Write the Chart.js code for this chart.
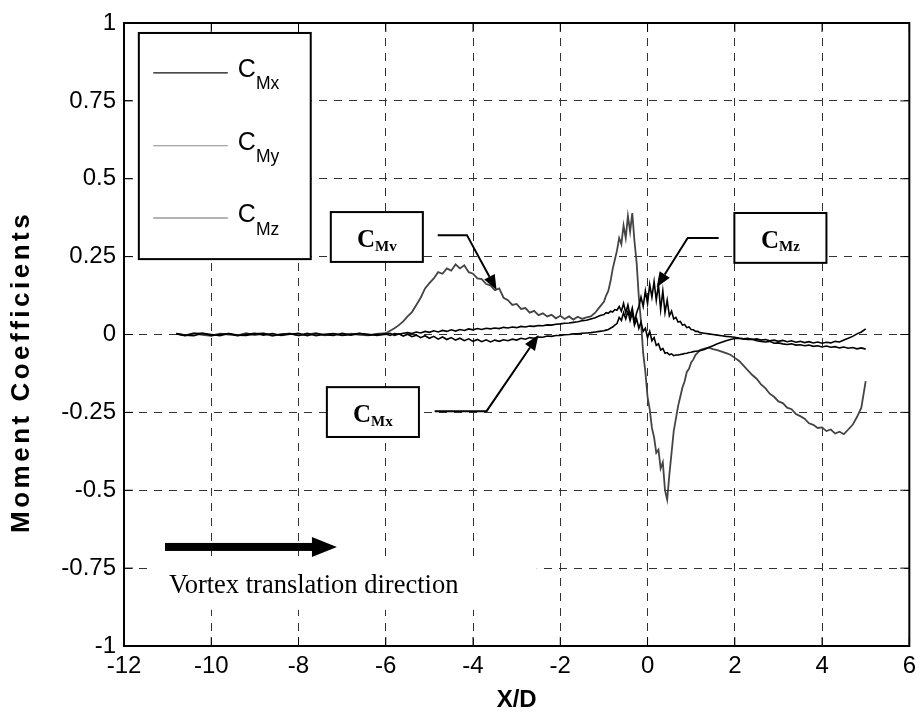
<!DOCTYPE html>
<html>
<head>
<meta charset="utf-8">
<script src="https://cdn.jsdelivr.net/npm/chart.js@4.4.1/dist/chart.umd.min.js"></script>
<style>
html,body{margin:0;padding:0;background:#ffffff;}
#wrap{position:relative;width:922px;height:715px;}
canvas{display:block;}
</style>
</head>
<body>
<div id="wrap"><canvas id="chart" width="922" height="715"></canvas></div>
<script>
// ---------- data ----------
const xOverD = [
  -10.8,-10.6,-10.4,-10.2,-10.0,-9.8,-9.6,-9.4,-9.2,-9.0,-8.8,-8.6,
  -8.4,-8.2,-8.0,-7.8,-7.6,-7.4,-7.2,-7.0,-6.8,-6.6,-6.4,-6.2,
  -6.0,-5.9,-5.8,-5.7,-5.6,-5.5,-5.4,-5.3,-5.2,-5.1,
  -5.0,-4.9,-4.8,-4.7,-4.6,-4.5,-4.4,-4.3,-4.2,-4.1,
  -4.0,-3.9,-3.8,-3.7,-3.6,-3.5,-3.4,-3.3,-3.2,-3.1,
  -3.0,-2.9,-2.8,-2.7,-2.6,-2.5,-2.4,-2.3,-2.2,-2.1,
  -2.0,-1.9,-1.8,-1.7,-1.6,-1.5,-1.4,-1.3,-1.2,-1.1,
  -1.0,-0.95,-0.9,-0.85,-0.8,-0.75,-0.7,-0.65,-0.6,-0.55,
  -0.5,-0.45,-0.4,-0.35,-0.3,-0.25,-0.2,-0.15,-0.1,-0.05,
  0.0,0.05,0.1,0.15,0.2,0.25,0.3,0.35,0.4,0.45,
  0.5,0.55,0.6,0.65,0.7,0.75,0.8,0.85,0.9,0.95,
  1.0,1.05,1.1,1.15,1.2,
  1.3,1.4,1.5,1.6,1.7,1.8,1.9,2.0,
  2.1,2.2,2.3,2.4,2.5,2.6,2.7,2.8,2.9,3.0,
  3.1,3.2,3.3,3.4,3.5,3.6,3.7,3.8,3.9,4.0,
  4.1,4.2,4.3,4.4,4.5,4.6,4.7,4.8,4.9,5.0
];

const cMx = [
  0.003,-0.002,-0.004,0.004,0.0,-0.004,0.003,-0.002,-0.003,0.002,0.004,-0.003,
  0.0,0.003,-0.003,0.004,-0.004,0.001,0.003,-0.003,0.0,0.004,-0.002,0.001,
  0.0,0.004,-0.003,0.002,-0.005,0.001,-0.007,-0.002,-0.01,-0.004,
  -0.012,-0.006,-0.015,-0.008,-0.016,-0.01,-0.018,-0.012,-0.02,-0.014,
  -0.022,-0.016,-0.023,-0.017,-0.024,-0.018,-0.022,-0.017,-0.02,-0.015,
  -0.018,-0.012,-0.015,-0.01,-0.012,-0.008,-0.009,-0.005,-0.006,-0.003,
  -0.003,-0.001,0.0,0.002,0.002,0.004,0.005,0.006,0.008,0.01,
  0.012,0.014,0.016,0.02,0.024,0.03,0.035,0.055,0.045,0.07,
  0.05,0.075,0.045,0.07,0.03,0.05,0.02,0.04,0.01,0.02,
  -0.01,0.01,-0.02,-0.01,-0.035,-0.03,-0.05,-0.045,-0.06,-0.058,
  -0.065,-0.062,-0.068,-0.066,-0.066,-0.064,-0.063,-0.061,-0.06,-0.058,
  -0.057,-0.055,-0.054,-0.053,-0.052,
  -0.048,-0.042,-0.036,-0.03,-0.025,-0.02,-0.016,-0.013,
  -0.012,-0.014,-0.012,-0.016,-0.014,-0.018,-0.016,-0.02,-0.018,-0.022,
  -0.019,-0.023,-0.02,-0.025,-0.022,-0.026,-0.023,-0.027,-0.024,-0.028,
  -0.025,-0.027,-0.022,-0.024,-0.018,-0.012,-0.006,0.002,0.008,0.018
];

const cMy = [
  0.003,-0.003,0.004,-0.001,-0.004,0.003,0.0,-0.003,0.004,-0.002,0.003,-0.004,
  0.001,0.003,-0.003,0.0,0.004,-0.003,0.002,-0.002,0.003,-0.001,-0.003,0.002,
  0.004,0.012,0.02,0.03,0.042,0.058,0.072,0.095,0.118,0.148,
  0.165,0.18,0.2,0.195,0.212,0.205,0.225,0.212,0.222,0.2,
  0.195,0.18,0.178,0.162,0.158,0.142,0.148,0.118,0.11,0.095,
  0.098,0.082,0.085,0.07,0.076,0.062,0.068,0.058,0.063,0.052,
  0.06,0.05,0.058,0.048,0.057,0.05,0.055,0.058,0.07,0.088,
  0.105,0.125,0.14,0.17,0.21,0.24,0.27,0.31,0.29,0.35,
  0.31,0.38,0.33,0.39,0.3,0.23,0.12,0.04,-0.06,-0.12,
  -0.2,-0.24,-0.3,-0.33,-0.38,-0.37,-0.43,-0.41,-0.5,-0.53,
  -0.45,-0.38,-0.31,-0.27,-0.23,-0.2,-0.17,-0.15,-0.12,-0.11,
  -0.09,-0.08,-0.065,-0.058,-0.05,
  -0.045,-0.042,-0.047,-0.05,-0.055,-0.06,-0.065,-0.075,
  -0.085,-0.1,-0.115,-0.13,-0.142,-0.16,-0.172,-0.19,-0.2,-0.215,
  -0.22,-0.235,-0.24,-0.255,-0.262,-0.27,-0.285,-0.29,-0.3,-0.298,
  -0.31,-0.305,-0.318,-0.312,-0.32,-0.305,-0.29,-0.265,-0.235,-0.15
];

const cMz = [
  0.002,-0.004,0.003,0.004,-0.003,0.0,0.003,-0.004,0.001,0.004,-0.002,0.003,
  -0.003,0.001,0.004,-0.004,0.003,-0.001,-0.003,0.004,-0.002,0.003,0.001,-0.003,
  0.002,-0.003,0.003,0.001,0.004,0.006,0.003,0.008,0.005,0.01,
  0.007,0.012,0.008,0.013,0.01,0.015,0.011,0.016,0.013,0.018,
  0.015,0.019,0.016,0.02,0.018,0.021,0.019,0.023,0.021,0.024,
  0.022,0.026,0.024,0.027,0.026,0.029,0.028,0.031,0.03,0.033,
  0.034,0.036,0.037,0.039,0.041,0.044,0.046,0.05,0.054,0.06,
  0.064,0.07,0.068,0.075,0.072,0.08,0.078,0.09,0.075,0.1,
  0.07,0.095,0.06,0.085,0.04,0.07,0.09,0.12,0.09,0.14,
  0.1,0.16,0.12,0.17,0.11,0.16,0.08,0.14,0.07,0.11,
  0.06,0.075,0.05,0.055,0.04,0.042,0.03,0.032,0.022,0.024,
  0.016,0.015,0.01,0.01,0.006,
  0.004,0.002,0.0,-0.002,-0.004,-0.006,-0.007,-0.009,
  -0.012,-0.014,-0.016,-0.015,-0.02,-0.022,-0.024,-0.022,-0.028,-0.027,
  -0.03,-0.032,-0.03,-0.034,-0.033,-0.036,-0.034,-0.038,-0.036,-0.04,
  -0.037,-0.041,-0.039,-0.043,-0.04,-0.044,-0.042,-0.046,-0.043,-0.047
];

const xTickValues = [-12,-10,-8,-6,-4,-2,0,2,4,6];
const yTickValues = [1,0.75,0.5,0.25,0,-0.25,-0.5,-0.75,-1];
const yTickLabels = ['1','0.75','0.5','0.25','0','-0.25','-0.5','-0.75','-1'];
const seriesNames = ['Mx','My','Mz'];
const xAxisTitle = 'X/D';
const yAxisTitle = 'Moment Coefficients';

// ---------- styles / annotation placement (in data units) ----------
const FONT = "'Liberation Sans', Arial, Helvetica, sans-serif";
const SERIF = "'Liberation Serif', 'Times New Roman', serif";

const deco = {
  legendBox: {x0:-11.66, x1:-7.72, y0:0.968, y1:0.242},
  legendRows: [0.84, 0.606, 0.374],
  legendLine: {x0:-11.33, x1:-9.62},
  legendTextX: -9.39,
  legendColors: ['#111111','#8a8a8a','#6a6a6a'],
  boxes: [
    {sub:'Mv', x0:-7.26, x1:-5.15, y0:0.393, y1:0.233, path:[[-4.81,0.319],[-4.14,0.319],[-3.46,0.143]]},
    {sub:'Mx', x0:-7.35, x1:-5.24, y0:-0.169, y1:-0.329, path:[[-4.88,-0.246],[-3.69,-0.246],[-2.50,-0.002]]},
    {sub:'Mz', x0:1.99, x1:4.10, y0:0.39, y1:0.23, path:[[1.63,0.31],[0.92,0.31],[0.21,0.152]]}
  ],
  dirArrow: {x0:-11.06, x1:-7.67, xTip:-7.12, y:-0.682},
  dirText: {x:-10.97, y:-0.83, text:'Vortex translation direction'},
  dirMask: {x0:-11.47, x1:-2.54, y0:-0.711, y1:-0.884},
  yTitle: {x: 22, yCenter: -0.12}
};

const toPts = vals => xOverD.map((xv, i) => ({x: xv, y: vals[i]}));

function boxFillStroke(ctx, x0, y0, x1, y1, lw) {
  ctx.fillStyle = '#ffffff';
  ctx.fillRect(x0, y0, x1 - x0, y1 - y0);
  ctx.strokeStyle = '#000000';
  ctx.lineWidth = lw;
  ctx.strokeRect(x0, y0, x1 - x0, y1 - y0);
}

function drawLeader(ctx, pts) {
  const n = pts.length;
  const [tx, ty] = pts[n - 1];
  const [px, py] = pts[n - 2];
  const dx = tx - px, dy = ty - py;
  const len = Math.hypot(dx, dy);
  const ux = dx / len, uy = dy / len;
  const headLen = 15, headHalf = 6;
  const bx = tx - ux * headLen, by = ty - uy * headLen;
  ctx.strokeStyle = '#000';
  ctx.lineWidth = 2;
  ctx.beginPath();
  ctx.moveTo(pts[0][0], pts[0][1]);
  for (let i = 1; i < n - 1; i++) ctx.lineTo(pts[i][0], pts[i][1]);
  ctx.lineTo(bx, by);
  ctx.stroke();
  ctx.fillStyle = '#000';
  ctx.beginPath();
  ctx.moveTo(tx, ty);
  ctx.lineTo(bx - uy * headHalf, by + ux * headHalf);
  ctx.lineTo(bx + uy * headHalf, by - ux * headHalf);
  ctx.closePath();
  ctx.fill();
}

const decorPlugin = {
  id: 'decor',
  afterDatasetsDraw(chart) {
    const {ctx, scales} = chart;
    const X = v => scales.x.getPixelForValue(v);
    const Y = v => scales.y.getPixelForValue(v);
    ctx.save();
    ctx.textAlign = 'left';
    ctx.textBaseline = 'alphabetic';

    // white background of the direction note
    const m = deco.dirMask;
    ctx.fillStyle = '#ffffff';
    ctx.fillRect(X(m.x0), Y(m.y0), X(m.x1) - X(m.x0), Y(m.y1) - Y(m.y0));

    // legend
    const lb = deco.legendBox;
    boxFillStroke(ctx, X(lb.x0), Y(lb.y0), X(lb.x1), Y(lb.y1), 2);
    deco.legendRows.forEach((ry, i) => {
      const yy = Y(ry);
      ctx.strokeStyle = deco.legendColors[i];
      ctx.lineWidth = 1.2;
      ctx.beginPath();
      ctx.moveTo(X(deco.legendLine.x0), yy);
      ctx.lineTo(X(deco.legendLine.x1), yy);
      ctx.stroke();
      ctx.fillStyle = '#000';
      const tx = X(deco.legendTextX);
      ctx.font = '25px ' + FONT;
      ctx.fillText('C', tx, yy + 4);
      const cw = ctx.measureText('C').width;
      ctx.font = '17.5px ' + FONT;
      ctx.fillText(seriesNames[i], tx + cw, yy + 16.6);
    });

    // labelled boxes with leader arrows
    deco.boxes.forEach(b => {
      const x0 = X(b.x0), x1 = X(b.x1), y0 = Y(b.y0), y1 = Y(b.y1);
      boxFillStroke(ctx, x0, y0, x1, y1, 2);
      ctx.font = 'bold 25px ' + SERIF;
      const cw = ctx.measureText('C').width;
      ctx.font = 'bold 15px ' + SERIF;
      const sw = ctx.measureText(b.sub).width;
      const left = (x0 + x1) / 2 - (cw + sw) / 2;
      const base = (y0 + y1) / 2 + 10;
      ctx.fillStyle = '#000';
      ctx.font = 'bold 25px ' + SERIF;
      ctx.fillText('C', left, base);
      ctx.font = 'bold 15px ' + SERIF;
      ctx.fillText(b.sub, left + cw, base + 3.5);
      drawLeader(ctx, b.path.map(p => [X(p[0]), Y(p[1])]));
    });

    // direction arrow
    const da = deco.dirArrow;
    const ay = Y(da.y);
    ctx.fillStyle = '#000';
    ctx.fillRect(X(da.x0), ay - 4, X(da.x1) - X(da.x0), 8);
    ctx.beginPath();
    ctx.moveTo(X(da.x1) - 1, ay - 10);
    ctx.lineTo(X(da.xTip), ay);
    ctx.lineTo(X(da.x1) - 1, ay + 10);
    ctx.closePath();
    ctx.fill();

    // direction text
    const dt = deco.dirText;
    ctx.font = '26.5px ' + SERIF;
    ctx.fillText(dt.text, X(dt.x), Y(dt.y));
    ctx.restore();
  },
  afterDraw(chart) {
    const {ctx, chartArea: a, scales} = chart;
    ctx.save();
    ctx.strokeStyle = '#000';
    ctx.lineWidth = 1;
    const tl = 9;
    ctx.beginPath();
    xTickValues.forEach(v => {
      const px = scales.x.getPixelForValue(v);
      ctx.moveTo(px, a.bottom); ctx.lineTo(px, a.bottom - tl);
      ctx.moveTo(px, a.top); ctx.lineTo(px, a.top + tl);
    });
    yTickValues.forEach(v => {
      const py = scales.y.getPixelForValue(v);
      ctx.moveTo(a.left, py); ctx.lineTo(a.left + tl, py);
      ctx.moveTo(a.right, py); ctx.lineTo(a.right - tl, py);
    });
    ctx.stroke();
    ctx.lineWidth = 2;
    ctx.strokeRect(a.left, a.top, a.right - a.left, a.bottom - a.top);

    // y-axis title (slightly spaced as in the reference)
    ctx.translate(deco.yTitle.x, scales.y.getPixelForValue(deco.yTitle.yCenter));
    ctx.rotate(-Math.PI / 2);
    ctx.font = 'bold 26px ' + FONT;
    if ('letterSpacing' in ctx) ctx.letterSpacing = '3.5px';
    ctx.fillStyle = '#000';
    ctx.textAlign = 'center';
    ctx.textBaseline = 'middle';
    ctx.fillText(yAxisTitle, 0, 0);
    ctx.restore();
  }
};

new Chart(document.getElementById('chart'), {
  type: 'line',
  data: {
    datasets: [
      {label: 'CMx', data: toPts(cMx), borderColor: '#000000', borderWidth: 1.6, pointRadius: 0, tension: 0, fill: false},
      {label: 'CMz', data: toPts(cMz), borderColor: '#000000', borderWidth: 1.6, pointRadius: 0, tension: 0, fill: false},
      {label: 'CMy', data: toPts(cMy), borderColor: '#444444', borderWidth: 1.8, pointRadius: 0, tension: 0, fill: false}
    ]
  },
  options: {
    responsive: false,
    animation: false,
    devicePixelRatio: 1,
    layout: {padding: {left: 0, right: 12, top: 23, bottom: 0}},
    plugins: {legend: {display: false}, tooltip: {enabled: false}},
    scales: {
      x: {
        type: 'linear', min: -12, max: 6,
        afterBuildTicks: s => { s.ticks = xTickValues.map(v => ({value: v})); },
        afterFit: s => { s.height = 69; },
        grid: {color: '#333333', lineWidth: 1, drawTicks: false},
        border: {display: false, dash: [8, 7]},
        ticks: {color: '#000', font: {family: FONT, size: 24}, padding: 6, maxRotation: 0, autoSkip: false,
                callback: v => String(v)},
        title: {display: true, text: xAxisTitle, color: '#000', font: {family: FONT, size: 24, weight: 'bold'}, padding: {top: 0, bottom: 0}}
      },
      y: {
        type: 'linear', min: -1, max: 1,
        afterBuildTicks: s => { s.ticks = yTickValues.map(v => ({value: v})); },
        afterFit: s => { s.width = 124; },
        grid: {color: '#333333', lineWidth: 1, drawTicks: false},
        border: {display: false, dash: [8, 7]},
        ticks: {color: '#000', font: {family: FONT, size: 24}, padding: 8, autoSkip: false,
                callback: v => { const i = yTickValues.indexOf(v); return i >= 0 ? yTickLabels[i] : ''; }},
        title: {display: false}
      }
    }
  },
  plugins: [decorPlugin]
});
</script>
</body>
</html>
